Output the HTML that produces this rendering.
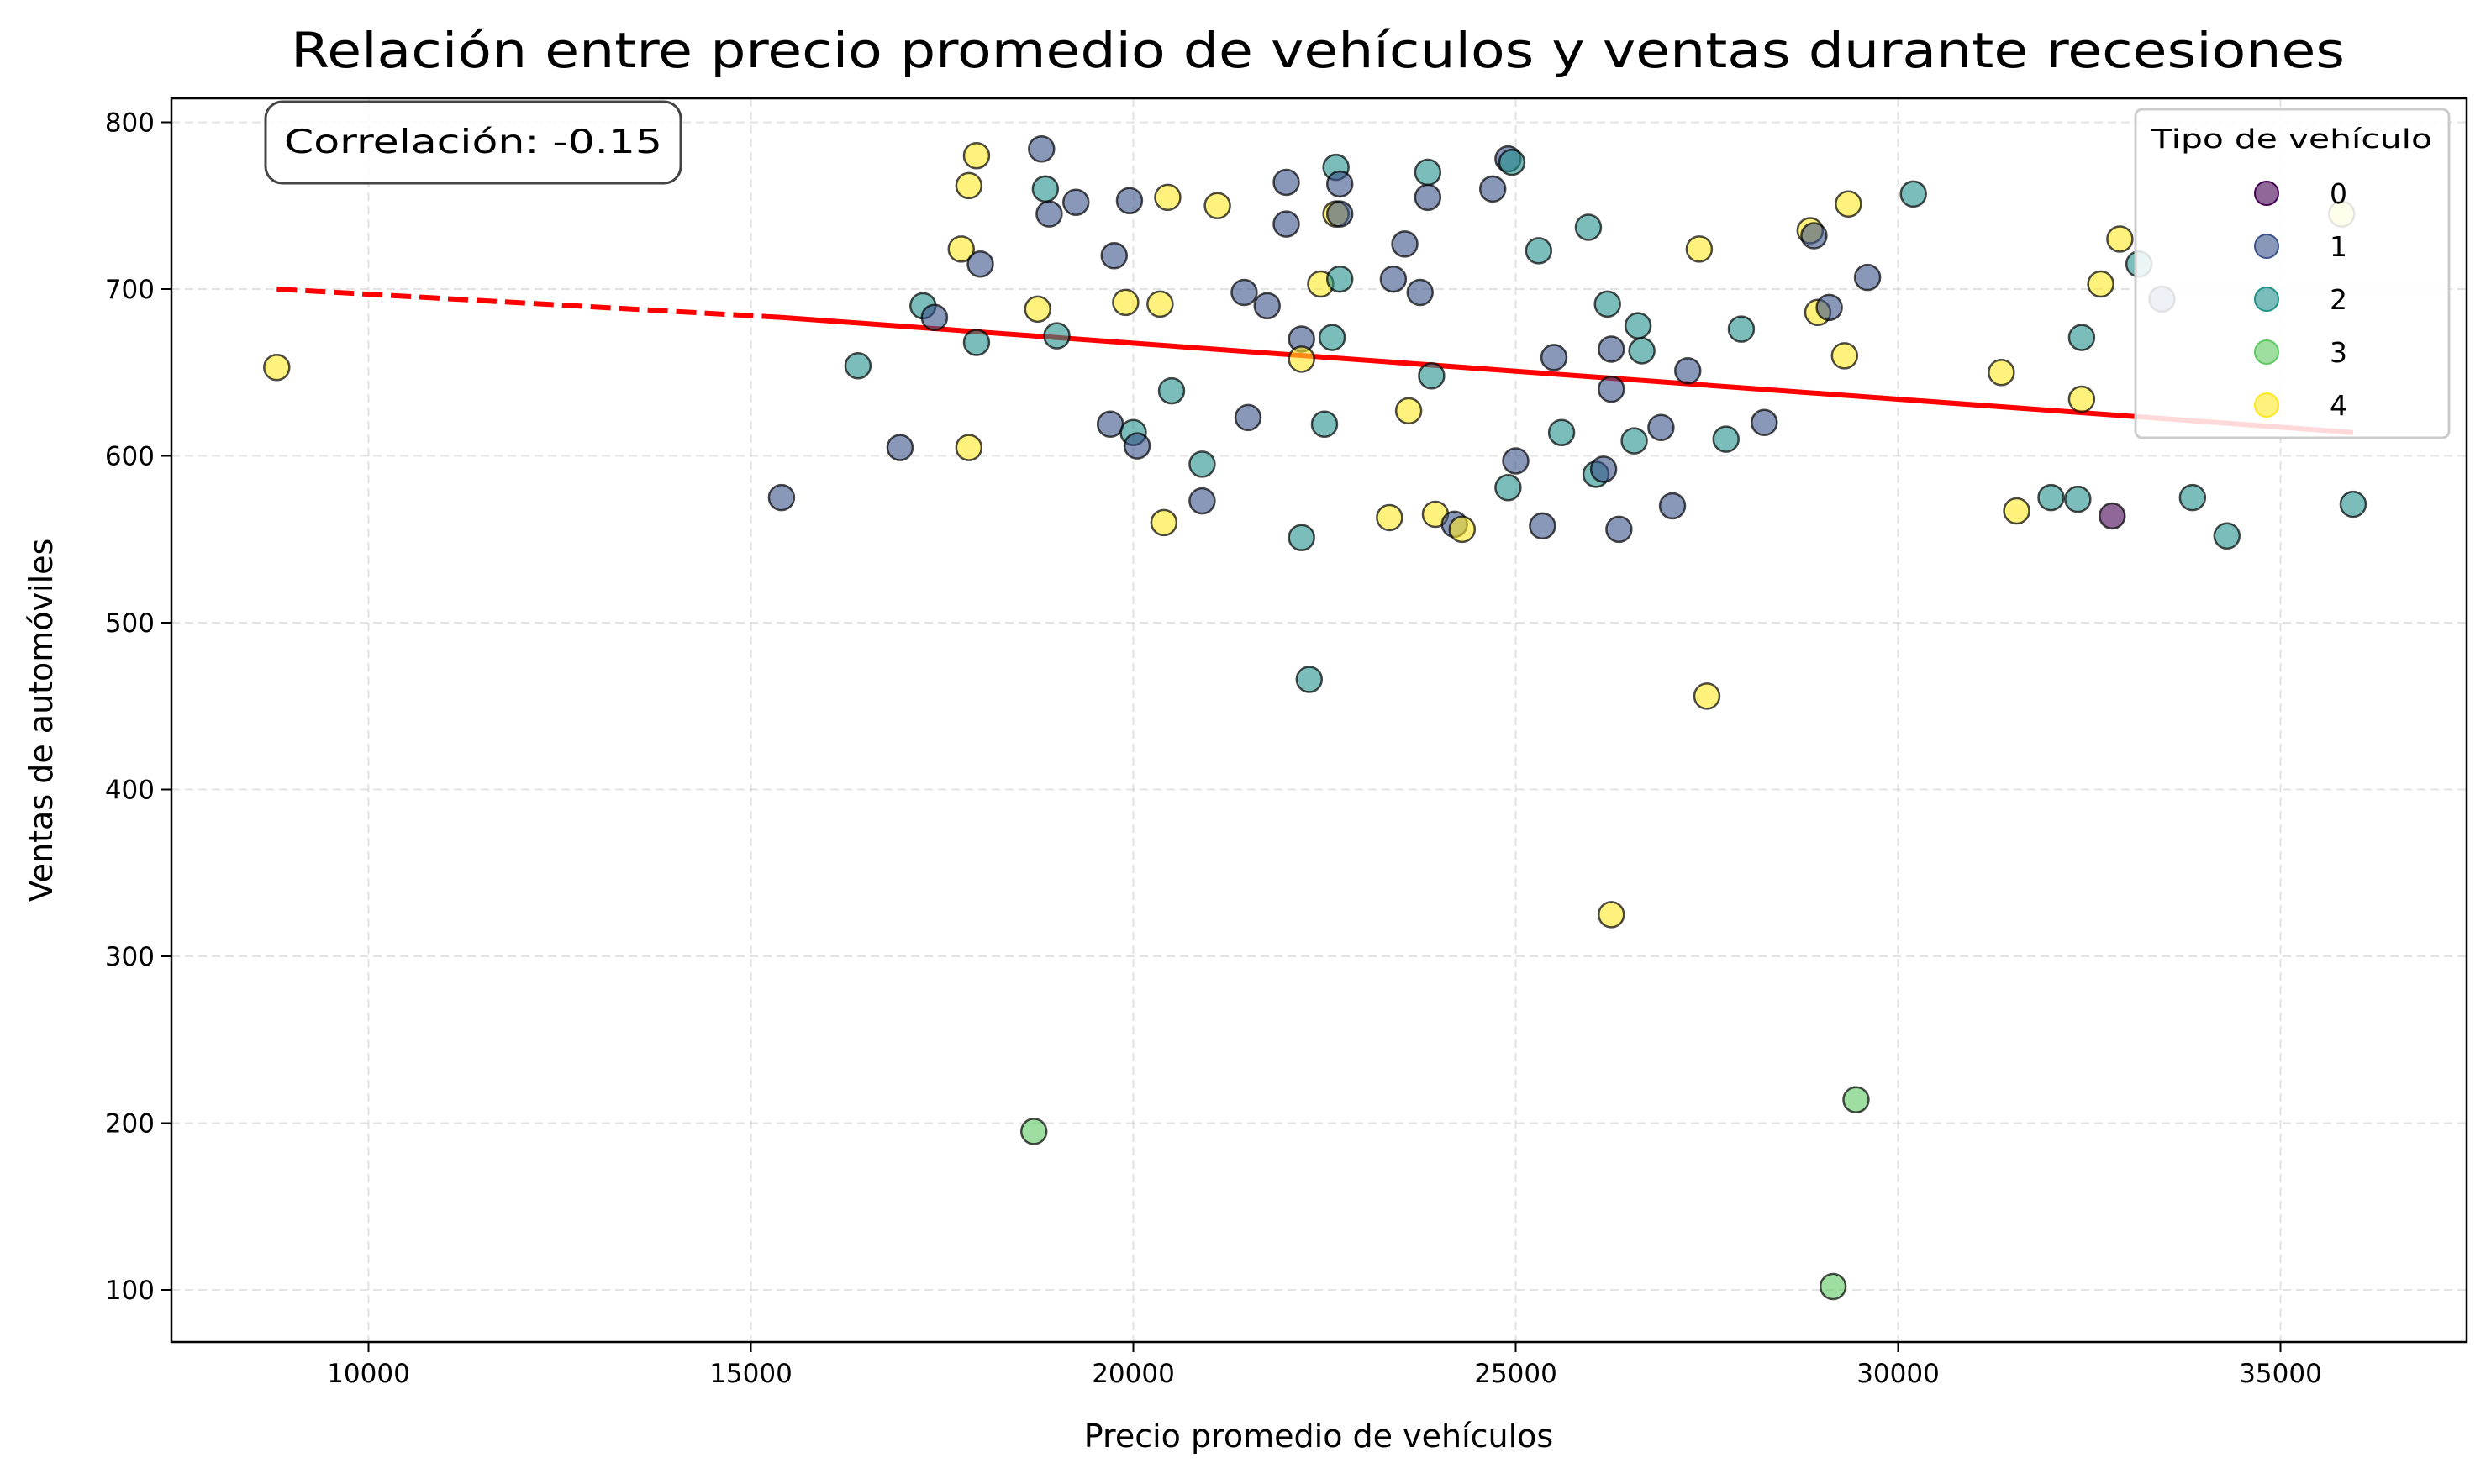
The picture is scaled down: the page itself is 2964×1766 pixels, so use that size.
<!DOCTYPE html>
<html><head><meta charset="utf-8"><style>
html,body{margin:0;padding:0;background:#fff;}
svg{display:block;font-family:"DejaVu Sans","Liberation Sans",sans-serif;}
</style></head><body>
<svg id="chart" width="2964" height="1766" viewBox="0 0 2964 1766" xmlns="http://www.w3.org/2000/svg">
<rect width="2964" height="1766" fill="#fff"/>
<text x="1568" y="80" text-anchor="middle" font-size="58" textLength="2444" lengthAdjust="spacingAndGlyphs">Relación entre precio promedio de vehículos y ventas durante recesiones</text>
<g id="grid"></g>
<g id="ticks"></g>
<g id="fit"></g>
<g id="points"></g>
<rect x="204" y="117" width="2731" height="1480" fill="none" stroke="#000" stroke-width="2.5"/>
<text x="1569" y="1722" text-anchor="middle" font-size="38">Precio promedio de vehículos</text>
<text transform="translate(62,857) rotate(-90)" text-anchor="middle" font-size="38">Ventas de automóviles</text>
<g>
<rect x="316" y="121" width="494" height="97" rx="20" fill="#fff" fill-opacity="0.8" stroke="#444" stroke-width="3"/>
<text x="563" y="182" text-anchor="middle" font-size="39" textLength="450" lengthAdjust="spacingAndGlyphs">Correlación: -0.15</text>
</g>
<g id="legend">
<rect x="2541" y="130" width="373" height="391" rx="8" fill="#fff" fill-opacity="0.85" stroke="#ccc" stroke-width="3"/>
<text x="2727" y="176" text-anchor="middle" font-size="31" textLength="334" lengthAdjust="spacingAndGlyphs">Tipo de vehículo</text>
</g>
</svg>
<script>
const xVals=[8800,15400,16400,16950,17250,17400,17750,17850,17850,17950,17950,18000,18750,18700,18800,18850,18900,19000,19250,19700,19750,19900,19950,20000,20050,20350,20400,20450,20500,20900,20900,21100,21450,21500,21750,22000,22000,22200,22200,22200,22300,22450,22500,22600,22650,22650,22700,22700,22700,23400,23350,23550,23600,23750,23850,23850,23900,23950,24200,24300,24700,24900,24950,24900,25000,25300,25350,25500,25600,25950,26050,26150,26200,26250,26250,26250,26350,26550,26600,26650,26900,27050,27250,27400,27500,27750,27950,28250,28850,28900,28950,29100,29150,29300,29350,29450,29600,30200,31350,31550,32000,32350,32400,32400,32650,32800,32900,33150,33450,33850,34300,35800,35950];
const yVals=[653,575,654,605,690,683,724,762,605,780,668,715,688,195,784,760,745,672,752,619,720,692,753,614,606,691,560,755,639,595,573,750,698,623,690,739,764,670,658,551,466,703,619,671,745,773,763,745,706,706,563,727,627,698,755,770,648,565,559,556,760,778,776,581,597,723,558,659,614,737,589,592,691,664,640,325,556,609,678,663,617,570,651,724,456,610,676,620,735,732,686,689,102,660,751,214,707,757,650,567,575,574,634,671,703,564,730,715,694,575,552,745,571];
const types=[4,1,2,1,2,1,4,4,4,4,2,1,4,3,1,2,1,2,1,1,1,4,1,2,1,4,4,4,2,2,1,4,1,1,1,1,1,1,4,2,2,4,2,2,4,2,1,1,2,1,4,1,4,1,1,2,2,4,1,4,1,1,2,2,1,2,1,1,2,2,2,1,2,1,1,4,1,2,2,2,1,1,1,4,4,2,2,1,4,1,4,1,3,4,4,3,1,2,4,4,2,2,4,2,4,0,4,2,1,2,2,4,2];
const xTicks=[10000,15000,20000,25000,30000,35000];
const yTicks=[100,200,300,400,500,600,700,800];
const fitX=[8800,15400,35950];
const fitY=[700,683,614];
const legendLabels=["0","1","2","3","4"];
const palette=["#440154","#3b528b","#21918c","#5ec962","#fde725"];
const NS="http://www.w3.org/2000/svg";
const L=204,R=2935,T=117,B=1597;
function sx(v){return 438.5+(v-10000)*(455/5000);}
function sy(v){return 145.5+(800-v)*(198.5/100);}
function mk(tag,attrs,parent){const e=document.createElementNS(NS,tag);for(const k in attrs)e.setAttribute(k,attrs[k]);parent.appendChild(e);return e;}
const grid=document.getElementById('grid'),ticks=document.getElementById('ticks');
xTicks.forEach(t=>{const x=sx(t);
 const g=mk('line',{x1:x,x2:x,y1:T,y2:B,stroke:'#b0b0b0','stroke-opacity':0.35,'stroke-width':2,'stroke-dasharray':'10,6'},grid);
 
 
 mk('line',{x1:x,x2:x,y1:B,y2:B+12,stroke:'#000','stroke-width':2},ticks);
 const tx=mk('text',{x:x,y:B+48,'text-anchor':'middle','font-size':31},ticks);tx.textContent=t;
 
 
});
yTicks.forEach(t=>{const y=sy(t);
 const g=mk('line',{x1:L,x2:R,y1:y,y2:y,stroke:'#b0b0b0','stroke-opacity':0.35,'stroke-width':2,'stroke-dasharray':'10,6'},grid);
 
 
 mk('line',{x1:L-12,x2:L,y1:y,y2:y,stroke:'#000','stroke-width':2},ticks);
 const tx=mk('text',{x:L-20,y:y+11,'text-anchor':'end','font-size':31},ticks);tx.textContent=t;
 
 
});
const fit=document.getElementById('fit');
const d1=mk('line',{x1:sx(fitX[0]),y1:sy(fitY[0]),x2:sx(fitX[1]),y2:sy(fitY[1]),stroke:'#ff0000','stroke-width':6,'stroke-dasharray':'24,10'},fit);


const d2=mk('line',{x1:sx(fitX[1]),y1:sy(fitY[1]),x2:sx(fitX[2]),y2:sy(fitY[2]),stroke:'#ff0000','stroke-width':6},fit);


const pts=document.getElementById('points');
xVals.forEach((v,i)=>{
 const c=mk('circle',{cx:sx(v),cy:sy(yVals[i]),r:15,fill:palette[types[i]],'fill-opacity':0.6,stroke:'#000','stroke-opacity':0.7,'stroke-width':2.5},pts);
 
 
});
const leg=document.getElementById('legend');
legendLabels.forEach((lab,i)=>{const y=230+i*63;
 const c=mk('circle',{cx:2697,cy:y,r:14,fill:palette[i],'fill-opacity':0.6,stroke:palette[i],'stroke-width':2},leg);
 
 
 const t=mk('text',{x:2772,y:y+12,'font-size':33},leg);t.textContent=lab;
 
 
});
</script>
</body></html>
